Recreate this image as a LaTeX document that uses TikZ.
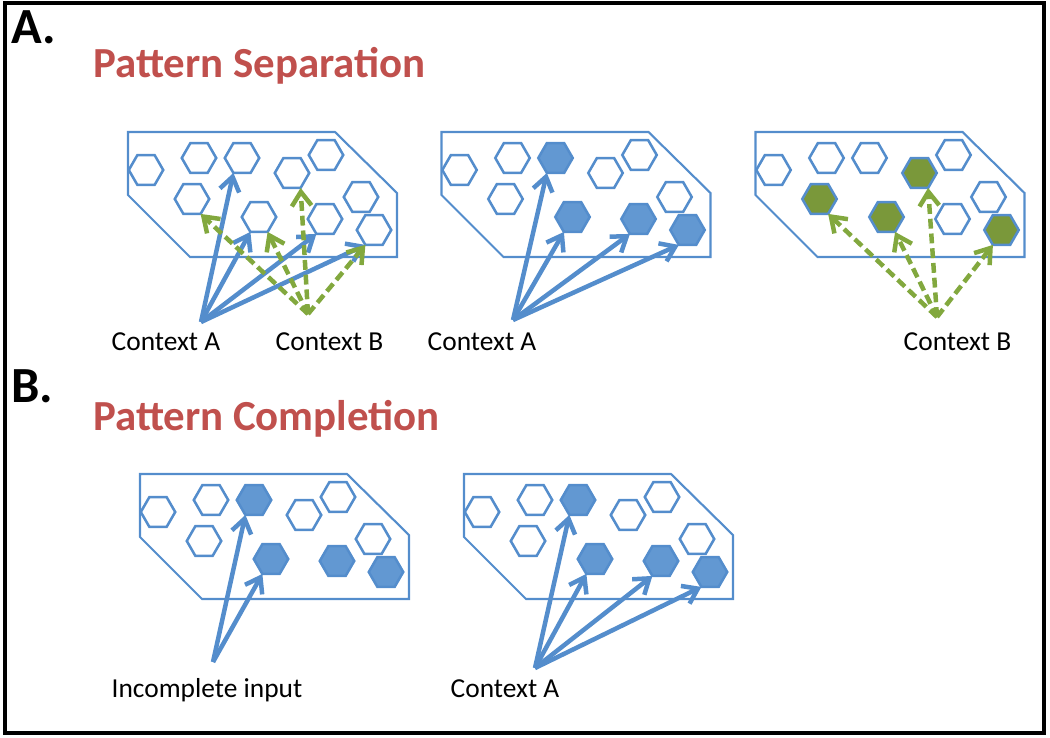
\documentclass[tikz,border=0pt]{standalone}
\usepackage{fontspec}
\setmainfont{Carlito}
\usetikzlibrary{shapes.geometric, arrows.meta}

\definecolor{hexblue}{RGB}{98,152,210}
\definecolor{lineblue}{RGB}{84,141,204}
\definecolor{hexgreen}{RGB}{122,152,58}
\definecolor{arrowgreen}{RGB}{130,168,62}
\definecolor{titlered}{RGB}{192,80,77}

% cell positions, same in every panel
\newcommand{\hexlist}{1/146/170, 2/199/158, 3/242/158, 4/292/173, 5/326/155, 6/192/199, 7/259/217, 8/325/219, 9/361/197, 10/374/230}

\begin{document}
\begin{tikzpicture}[x=0.025cm, y=-0.025cm]
    % Styles
    \tikzstyle{region} = [draw=lineblue, line width=1.5pt]
    \tikzstyle{hexe} = [regular polygon, regular polygon sides=6, minimum size=24.5pt, inner sep=0pt, outer sep=0pt, draw=lineblue, line width=1.8pt, fill=white]
    \tikzstyle{hexb} = [fill=hexblue]
    \tikzstyle{hexg} = [fill=hexgreen]
    \tikzstyle{arrowa} = [-{Straight Barb[length=10pt, width=14pt]}, line width=3.2pt, draw=lineblue]
    \tikzstyle{arrowb} = [arrowa, draw=arrowgreen, dash pattern=on 7pt off 3.5pt]
    \tikzstyle{ctx} = [anchor=base, inner sep=0pt, font=\fontsize{19.5}{22}\selectfont]
    \tikzstyle{title} = [anchor=base west, inner sep=0pt, text=titlered, font=\fontsize{30.5}{36}\selectfont\bfseries]
    \tikzstyle{letter} = [anchor=base west, inner sep=0pt, font=\fontsize{36}{42}\selectfont\bfseries]
    % active cells
    \tikzstyle{A2-3} = [hexb] \tikzstyle{A2-7} = [hexb] \tikzstyle{A2-8} = [hexb] \tikzstyle{A2-10} = [hexb]
    \tikzstyle{A3-4} = [hexg] \tikzstyle{A3-6} = [hexg] \tikzstyle{A3-7} = [hexg] \tikzstyle{A3-10} = [hexg]
    \tikzstyle{B1-3} = [hexb] \tikzstyle{B1-7} = [hexb] \tikzstyle{B1-8} = [hexb] \tikzstyle{B1-10} = [hexb]
    \tikzstyle{B2-3} = [hexb] \tikzstyle{B2-7} = [hexb] \tikzstyle{B2-8} = [hexb] \tikzstyle{B2-10} = [hexb]

    \useasboundingbox (0,0) rectangle (1050,737);
    \draw[line width=2.3pt] (5,3) rectangle (1044,733);

    % Headings
    \node[letter] (la) at (11,43) {A.};
    \node[title] (ta) at (93,77) {Pattern Separation};
    \node[letter] (lb) at (11,402) {B.};
    \node[title] (tb) at (93,430) {Pattern Completion};

    % Panels
    \foreach \pn/\dx/\dy in {A1/0/0, A2/313.5/0, A3/627.5/0, B1/12/342, B2/336/342} {
        \begin{scope}[shift={(\dx,\dy)}]
            \draw[region] (128,132) -- (335,132) -- (397,193) -- (397,257) -- (190,257) -- (128,195) -- cycle;
            \foreach \i/\x/\y in \hexlist {
                \node[hexe, \pn-\i/.try] (\pn-\i) at (\x,\y) {};
            }
        \end{scope}
    }

    % Inputs
    \coordinate (ca1) at (201,322);
    \coordinate (cb1) at (308,314);
    \coordinate (ca2) at (513,320);
    \coordinate (cb3) at (937,317);
    \coordinate (inc) at (213,662);
    \coordinate (ca4) at (535,668);
    \node[ctx] (t1) at (166,350) {Context A};
    \node[ctx] (t2) at (329.5,350) {Context B};
    \node[ctx] (t3) at (482,350) {Context A};
    \node[ctx] (t4) at (957.5,350) {Context B};
    \node[ctx] (t5) at (207,697) {Incomplete input};
    \node[ctx] (t6) at (505,697) {Context A};

    % Arrows
    \foreach \i in {3,7,8,10} {
        \draw[arrowa] (ca1) -- (A1-\i.240);
        \draw[arrowa] (ca2) -- (A2-\i.240);
        \draw[arrowa] (ca4) -- (B2-\i.240);
    }
    \foreach \i/\a in {6/300, 7/300, 4/300, 10/240} {
        \draw[arrowb] (cb1) -- (A1-\i.\a);
        \draw[arrowb] (cb3) -- (A3-\i.\a);
    }
    \draw[arrowa] (inc) -- (B1-3.240);
    \draw[arrowa] (inc) -- (B1-7.240);
\end{tikzpicture}
\end{document}
